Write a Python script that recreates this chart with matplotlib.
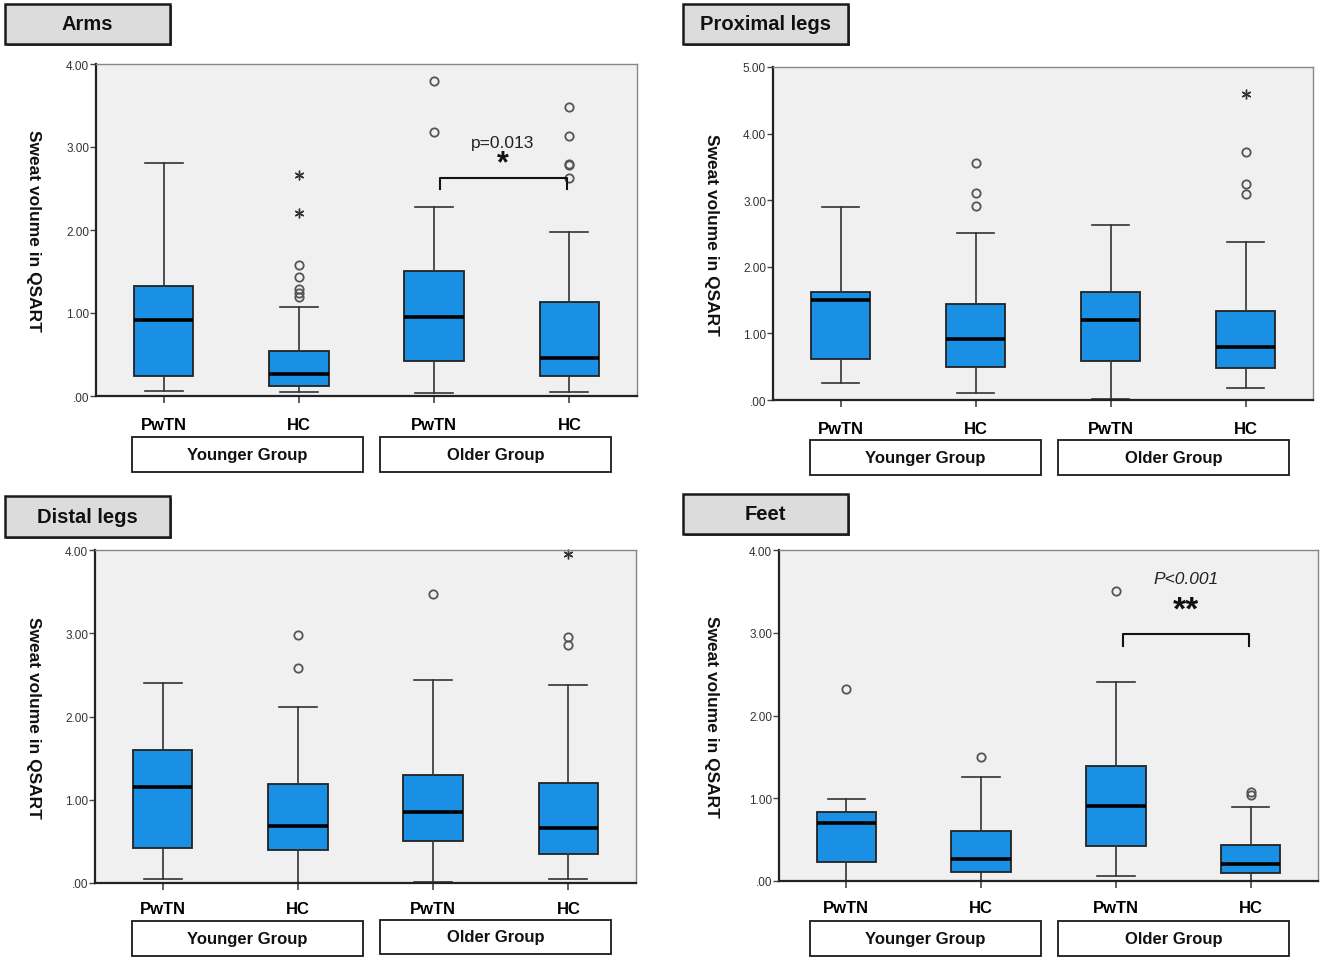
import matplotlib
matplotlib.use("Agg")
import matplotlib.pyplot as plt
from matplotlib.patches import Rectangle
from matplotlib.ticker import FuncFormatter

plt.rcParams['font.family'] = ['Liberation Sans', 'DejaVu Sans']

# ---------------- data ----------------
CATEGORIES = ["PwTN", "HC", "PwTN", "HC"]
GROUPS = ["Younger Group", "Older Group"]
YLABEL = "Sweat volume in QSART"

# Arms
ARMS_WHISLO = [0.06, 0.05, 0.04, 0.045]
ARMS_Q1 = [0.24, 0.12, 0.42, 0.24]
ARMS_MED = [0.91, 0.26, 0.95, 0.46]
ARMS_Q3 = [1.32, 0.545, 1.51, 1.135]
ARMS_WHISHI = [2.81, 1.07, 2.28, 1.98]
ARMS_OUT = [[], [1.58, 1.43, 1.29, 1.24, 1.19], [3.80, 3.18], [3.48, 3.13, 2.79, 2.78, 2.63]]
ARMS_EXT = [[], [2.66, 2.21], [], []]

# Proximal legs
PROX_WHISLO = [0.25, 0.11, 0.015, 0.18]
PROX_Q1 = [0.62, 0.49, 0.59, 0.48]
PROX_MED = [1.50, 0.91, 1.20, 0.79]
PROX_Q3 = [1.62, 1.44, 1.62, 1.34]
PROX_WHISHI = [2.90, 2.51, 2.63, 2.37]
PROX_OUT = [[], [3.56, 3.11, 2.91], [], [3.72, 3.25, 3.10]]
PROX_EXT = [[], [], [], [4.60]]

# Distal legs
DIST_WHISLO = [0.05, 0.0, 0.01, 0.045]
DIST_Q1 = [0.415, 0.395, 0.51, 0.35]
DIST_MED = [1.15, 0.68, 0.85, 0.665]
DIST_Q3 = [1.595, 1.19, 1.30, 1.20]
DIST_WHISHI = [2.40, 2.11, 2.44, 2.38]
DIST_OUT = [[], [2.98, 2.58], [3.47], [2.95, 2.86]]
DIST_EXT = [[], [], [], [3.95]]

# Feet
FEET_WHISLO = [0.0, 0.0, 0.065, 0.0]
FEET_Q1 = [0.23, 0.11, 0.42, 0.10]
FEET_MED = [0.705, 0.26, 0.91, 0.20]
FEET_Q3 = [0.83, 0.60, 1.385, 0.43]
FEET_WHISHI = [0.99, 1.26, 2.40, 0.90]
FEET_OUT = [[2.32], [1.50], [3.50], [1.07, 1.04]]
FEET_EXT = [[], [], [], []]

# significance annotations
ARMS_SIG = dict(x1=3.04, x2=3.98, y=2.63, leg=2.49, star="*", ystar=2.80, ptext="p=0.013",
                yp=3.05, italic=False, starsize=22)
FEET_SIG = dict(x1=3.05, x2=3.99, y=2.99, leg=2.84, star="**", ystar=3.27, ptext="P<0.001",
                yp=3.65, italic=True, starsize=24)

# ---------------- layout ----------------
W, H = 1325, 962
fig = plt.figure(figsize=(W / 100, H / 100), dpi=100)
fig.patch.set_facecolor("white")

BOX_COLOR = "#1990e4"
BG = "#f0f0f0"


def fig_rect(l, t, r, b):
    return [l / W, 1 - b / H, (r - l) / W, (b - t) / H]


def fig_box(l, t, r, b, text, face, lw, fs, shadow=False):
    if shadow:
        fig.patches.append(Rectangle((l / W + 2 / W, 1 - b / H - 2 / H), (r - l) / W, (b - t) / H,
                                     transform=fig.transFigure, facecolor="#555555",
                                     edgecolor="none", zorder=1))
    fig.patches.append(Rectangle((l / W, 1 - b / H), (r - l) / W, (b - t) / H,
                                 transform=fig.transFigure, facecolor=face,
                                 edgecolor="#1a1a1a", linewidth=lw, zorder=2))
    fig.text((l + r) / 2 / W, 1 - (t + b) / 2 / H, text, ha="center", va="center",
             fontsize=fs, fontweight="bold", color="#111111", zorder=3)


def panel(ax_px, title_px, title, ylab_x, cat_pad, grp_boxes, ymax, yticks,
          whislo, q1, med, q3, whishi, outs, exts, sig=None):
    ax = fig.add_axes(fig_rect(*ax_px))
    ax.set_facecolor(BG)
    stats = []
    for i in range(len(CATEGORIES)):
        stats.append(dict(whislo=whislo[i], q1=q1[i], med=med[i], q3=q3[i],
                          whishi=whishi[i], fliers=[]))
    pos = list(range(1, len(CATEGORIES) + 1))
    ax.bxp(stats, positions=pos, widths=0.44, capwidths=0.28, patch_artist=True,
           showfliers=False,
           boxprops=dict(facecolor=BOX_COLOR, edgecolor="#222222", linewidth=1.3),
           medianprops=dict(color="black", linewidth=2.6),
           whiskerprops=dict(color="#333333", linewidth=1.2),
           capprops=dict(color="#333333", linewidth=1.2))
    for i, vals in enumerate(outs):
        if vals:
            ax.plot([pos[i]] * len(vals), vals, linestyle="none", marker="o",
                    markersize=6, markerfacecolor="none", markeredgecolor="#555555",
                    markeredgewidth=1.3, clip_on=False)
    for i, vals in enumerate(exts):
        if vals:
            ax.plot([pos[i]] * len(vals), vals, linestyle="none", marker=(6, 2, 0),
                    markersize=7, color="#333333", markeredgewidth=1.0, clip_on=False)
    ax.set_xlim(0.5, len(CATEGORIES) + 0.5)
    ax.set_ylim(0, ymax)
    ax.set_yticks(yticks)
    ax.yaxis.set_major_formatter(FuncFormatter(lambda v, p: f"{v:.2f}".lstrip("0")))
    ax.set_xticks(pos)
    ax.set_xticklabels(CATEGORIES, fontsize=12, fontweight="bold")
    ax.tick_params(axis="x", length=5, width=1.2, pad=cat_pad, color="#444444")
    ax.tick_params(axis="y", length=4, width=1, pad=1, labelsize=8.5, color="#444444",
                   labelcolor="#333333")
    for s in ("left", "bottom"):
        ax.spines[s].set_color("#222222")
        ax.spines[s].set_linewidth(1.6)
    for s in ("top", "right"):
        ax.spines[s].set_color("#888888")
        ax.spines[s].set_linewidth(1.0)
    if sig:
        ax.plot([sig["x1"], sig["x1"], sig["x2"], sig["x2"]],
                [sig["leg"], sig["y"], sig["y"], sig["leg"]], color="#111111", linewidth=1.5)
        xm = (sig["x1"] + sig["x2"]) / 2
        ax.text(xm, sig["ystar"], sig["star"], ha="center", va="center",
                fontsize=sig["starsize"], fontweight="bold", color="#111111")
        ax.text(xm, sig["yp"], sig["ptext"], ha="center", va="center", fontsize=12.5,
                style="italic" if sig["italic"] else "normal", color="#222222")
    # y label
    t, b = ax_px[1], ax_px[3]
    fig.text(ylab_x / W, 1 - (t + b) / 2 / H, YLABEL, rotation=-90, ha="center",
             va="center", fontsize=12.5, fontweight="bold", color="#111111")
    # title box
    fig_box(*title_px, title, "#dcdcdc", 1.8, 14.5, shadow=True)
    # group boxes
    for gb, g in zip(grp_boxes, GROUPS):
        fig_box(*gb, g, "white", 1.3, 12)
    return ax


panel((96, 65, 637, 397), (5, 5, 170, 45), "Arms", 33, 10,
      [(132, 438, 363, 473), (380, 438, 611, 473)], 4, [0, 1, 2, 3, 4],
      ARMS_WHISLO, ARMS_Q1, ARMS_MED, ARMS_Q3, ARMS_WHISHI, ARMS_OUT, ARMS_EXT, ARMS_SIG)

panel((773, 68, 1313, 401), (683, 5, 848, 45), "Proximal legs", 712, 10,
      [(810, 441, 1041, 476), (1058, 441, 1289, 476)], 5, [0, 1, 2, 3, 4, 5],
      PROX_WHISLO, PROX_Q1, PROX_MED, PROX_Q3, PROX_WHISHI, PROX_OUT, PROX_EXT)

panel((95, 551, 636, 884), (5, 497, 170, 538), "Distal legs", 33, 8,
      [(132, 922, 363, 957), (380, 921, 611, 955)], 4, [0, 1, 2, 3, 4],
      DIST_WHISLO, DIST_Q1, DIST_MED, DIST_Q3, DIST_WHISHI, DIST_OUT, DIST_EXT)

panel((779, 551, 1318, 882), (683, 495, 848, 535), "Feet", 712, 9,
      [(810, 922, 1041, 957), (1058, 922, 1289, 957)], 4, [0, 1, 2, 3, 4],
      FEET_WHISLO, FEET_Q1, FEET_MED, FEET_Q3, FEET_WHISHI, FEET_OUT, FEET_EXT, FEET_SIG)

fig.savefig("out.png", dpi=100, facecolor="white")
